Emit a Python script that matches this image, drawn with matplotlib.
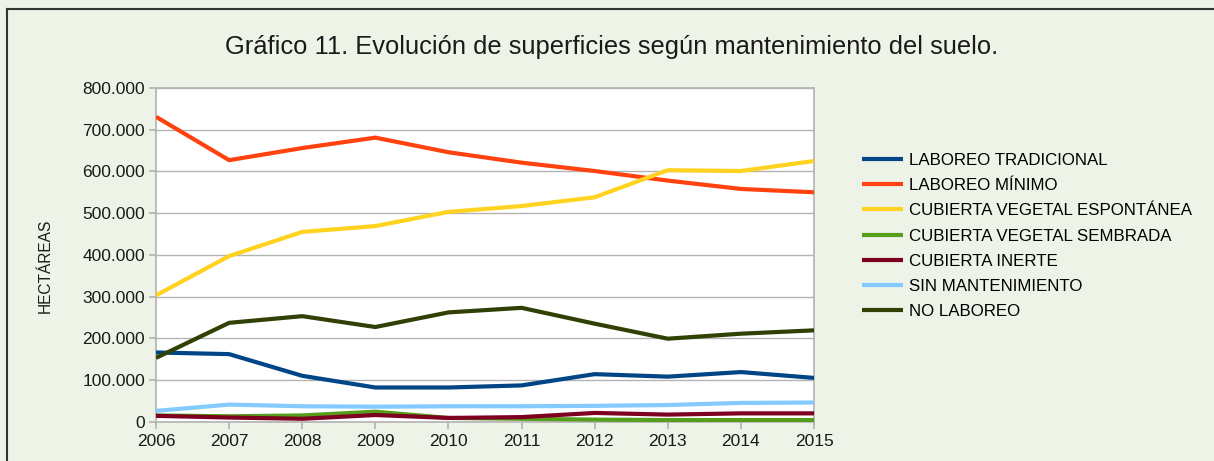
import matplotlib
matplotlib.use("Agg")
import matplotlib.pyplot as plt
from matplotlib.lines import Line2D
from matplotlib.ticker import FuncFormatter, MultipleLocator

plt.rcParams['font.family'] = ['Liberation Sans', 'DejaVu Sans']

years = [2006, 2007, 2008, 2009, 2010, 2011, 2012, 2013, 2014, 2015]
series_names = [
    "LABOREO TRADICIONAL",
    "LABOREO MÍNIMO",
    "CUBIERTA VEGETAL ESPONTÁNEA",
    "CUBIERTA VEGETAL SEMBRADA",
    "CUBIERTA INERTE",
    "SIN MANTENIMIENTO",
    "NO LABOREO",
]
laboreo_tradicional = [166000, 162000, 110000, 82000, 82000, 87000, 114000, 108000, 119000, 105000]
laboreo_minimo = [731000, 627000, 656000, 681000, 646000, 621000, 601000, 578000, 558000, 550000]
cubierta_espontanea = [303000, 397000, 455000, 469000, 503000, 517000, 538000, 603000, 601000, 625000]
cubierta_sembrada = [15000, 13000, 15000, 24000, 9000, 7000, 5000, 4000, 4000, 4000]
cubierta_inerte = [14000, 10000, 7000, 16000, 9000, 11000, 21000, 17000, 20000, 20000]
sin_mantenimiento = [26000, 41000, 37000, 36000, 37000, 37000, 38000, 40000, 45000, 46000]
no_laboreo = [153000, 237000, 253000, 227000, 262000, 273000, 235000, 199000, 211000, 219000]

colors = ["#004586", "#ff420e", "#ffd320", "#579d1c", "#7e0021", "#83caff", "#314004"]
all_series = [laboreo_tradicional, laboreo_minimo, cubierta_espontanea, cubierta_sembrada,
              cubierta_inerte, sin_mantenimiento, no_laboreo]

bg = "#eef3e8"
grid_c = "#b3b3b3"

fig = plt.figure(figsize=(12.14, 4.61), dpi=100, facecolor=bg)
ax = fig.add_axes([156/1214, 1-421.7/461, (814-156)/1214, (421.7-88)/461])
ax.set_facecolor("white")

lines = []
for name, vals, c in zip(series_names, all_series, colors):
    ln, = ax.plot(years, vals, color=c, lw=3.0, label=name, solid_capstyle='butt', zorder=3)
    lines.append(ln)

ax.set_xlim(2006, 2015)
ax.set_ylim(0, 800000)
ax.yaxis.set_major_locator(MultipleLocator(100000))
ax.set_xticks(years)
ax.yaxis.set_major_formatter(FuncFormatter(lambda v, p: f"{int(round(v)):,}".replace(",", ".")))
ax.grid(axis='y', color=grid_c, lw=1.0, zorder=1)
for s in ax.spines.values():
    s.set_color(grid_c)
    s.set_linewidth(1.2)
ax.tick_params(axis='both', colors=grid_c, labelcolor="#1a1a1a", labelsize=12.5,
               length=5, width=1.2, direction='out')
ax.tick_params(axis='x', pad=4)
ax.tick_params(axis='y', pad=3)

fig.text(45/1214, 1-266/461, "HECTÁREAS", rotation=90, ha='center', va='center',
         fontsize=11.2, color="#1a1a1a")
fig.text(612/1214, 1-47/461, "Gráfico 11. Evolución de superficies según mantenimiento del suelo.",
         ha='center', va='center', fontsize=18.4, color="#1a1a1a")

fig.legend(handles=lines, loc='center left', bbox_to_anchor=(862/1214, 1-236/461),
           frameon=False, fontsize=12.2, handlelength=2.4, handletextpad=0.35,
           labelspacing=0.6, borderaxespad=0, borderpad=0)

# outer chart border (top and left visible)
fig.add_artist(Line2D([7/1214, 1.0], [1-9/461, 1-9/461], color="#333333", lw=1.5))
fig.add_artist(Line2D([7/1214, 7/1214], [0, 1-9/461], color="#333333", lw=1.5))

fig.savefig("out.png", dpi=100, facecolor=bg)
